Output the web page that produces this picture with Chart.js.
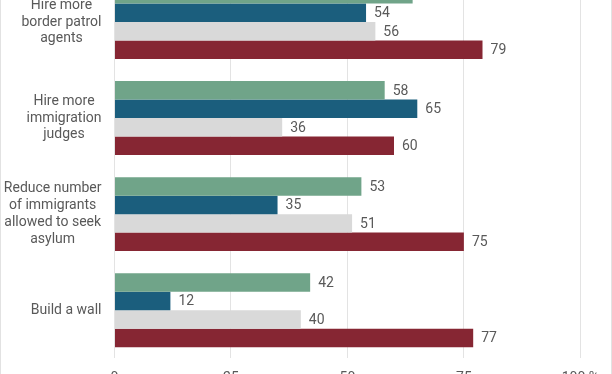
<!DOCTYPE html>
<html>
<head>
<meta charset="utf-8">
<script src="https://cdn.jsdelivr.net/npm/chart.js@4/dist/chart.umd.min.js"></script>
<style>
  html, body { margin: 0; padding: 0; background: #fff; }
  #frame {
    width: 610px;
    height: 374px;
    overflow: hidden;
    border-left: 1px solid #e2e2e2;
    border-right: 1px solid #e2e2e2;
    position: relative;
  }
  #chart { position: absolute; left: 0; top: -26px; }
</style>
</head>
<body>
<div id="frame">
  <canvas id="chart" width="610" height="425"></canvas>
</div>
<script>
// categories (multi-line labels)
const categories = [
  ['Hire more', 'border patrol', 'agents'],
  ['Hire more', 'immigration', 'judges'],
  ['Reduce number', 'of immigrants', 'allowed to seek', 'asylum'],
  ['Build a wall']
];

// series values, top bar to bottom bar in each group
const seriesNames = ['Total', 'Democrats', 'Independents', 'Republicans'];
const totalVals = [64, 58, 53, 42];
const demVals = [54, 65, 35, 12];
const indVals = [56, 36, 51, 40];
const repVals = [79, 60, 75, 77];
const seriesColors = ['#70a489', '#1b5e7d', '#d9d9d9', '#862633'];

const tickValues = [0, 25, 50, 75, 100];
const tickLabels = ['0', '25', '50', '75', '100 %'];

const textColor = '#595959';
const font = { family: 'Roboto', size: 14 };

// value labels to the right of each bar
const valueLabels = {
  id: 'valueLabels',
  afterDatasetsDraw(chart) {
    const ctx = chart.ctx;
    ctx.save();
    ctx.font = `${font.size}px ${font.family}`;
    ctx.fillStyle = textColor;
    ctx.textAlign = 'left';
    ctx.textBaseline = 'middle';
    chart.data.datasets.forEach((ds, di) => {
      chart.getDatasetMeta(di).data.forEach((bar, i) => {
        ctx.fillText(ds.data[i], bar.x + 8, bar.y + 1);
      });
    });
    ctx.restore();
  }
};

// category labels: block right aligned to the axis, lines centred inside it
const categoryLabels = {
  id: 'categoryLabels',
  afterDraw(chart) {
    const ctx = chart.ctx;
    const yScale = chart.scales.y;
    const right = chart.chartArea.left - 13;
    const lineH = font.size * 1.2;
    ctx.save();
    ctx.font = `${font.size}px ${font.family}`;
    ctx.fillStyle = textColor;
    ctx.textAlign = 'center';
    ctx.textBaseline = 'middle';
    categories.forEach((lines, i) => {
      const w = Math.max(...lines.map(l => ctx.measureText(l).width));
      const cx = right - w / 2;
      const cy = yScale.getPixelForValue(i);
      const top = cy - (lines.length - 1) * lineH / 2;
      lines.forEach((l, k) => ctx.fillText(l, cx, top + k * lineH));
    });
    ctx.restore();
  }
};

const values = [totalVals, demVals, indVals, repVals];

new Chart(document.getElementById('chart'), {
  type: 'bar',
  data: {
    labels: categories.map(c => c.join(' ')),
    datasets: values.map((v, i) => ({
      label: seriesNames[i],
      data: v,
      backgroundColor: seriesColors[i],
      borderWidth: 0,
      categoryPercentage: 0.77,
      barPercentage: 1.0
    }))
  },
  options: {
    indexAxis: 'y',
    responsive: false,
    animation: false,
    layout: { padding: { left: 0, right: 25, top: 0, bottom: 0 } },
    plugins: {
      legend: { display: false },
      tooltip: { enabled: false }
    },
    scales: {
      x: {
        min: 0,
        max: 100,
        afterBuildTicks: s => { s.ticks = tickValues.map(v => ({ value: v })); },
        ticks: {
          color: textColor,
          font: font,
          padding: 12,
          callback: (v) => tickLabels[tickValues.indexOf(v)]
        },
        grid: { color: '#e3e3e3', drawTicks: false },
        border: { display: false }
      },
      y: {
        ticks: { display: false },
        grid: { display: false },
        border: { display: false },
        afterFit: s => { s.width = 113.5; }
      }
    }
  },
  plugins: [valueLabels, categoryLabels]
});
</script>
</body>
</html>
